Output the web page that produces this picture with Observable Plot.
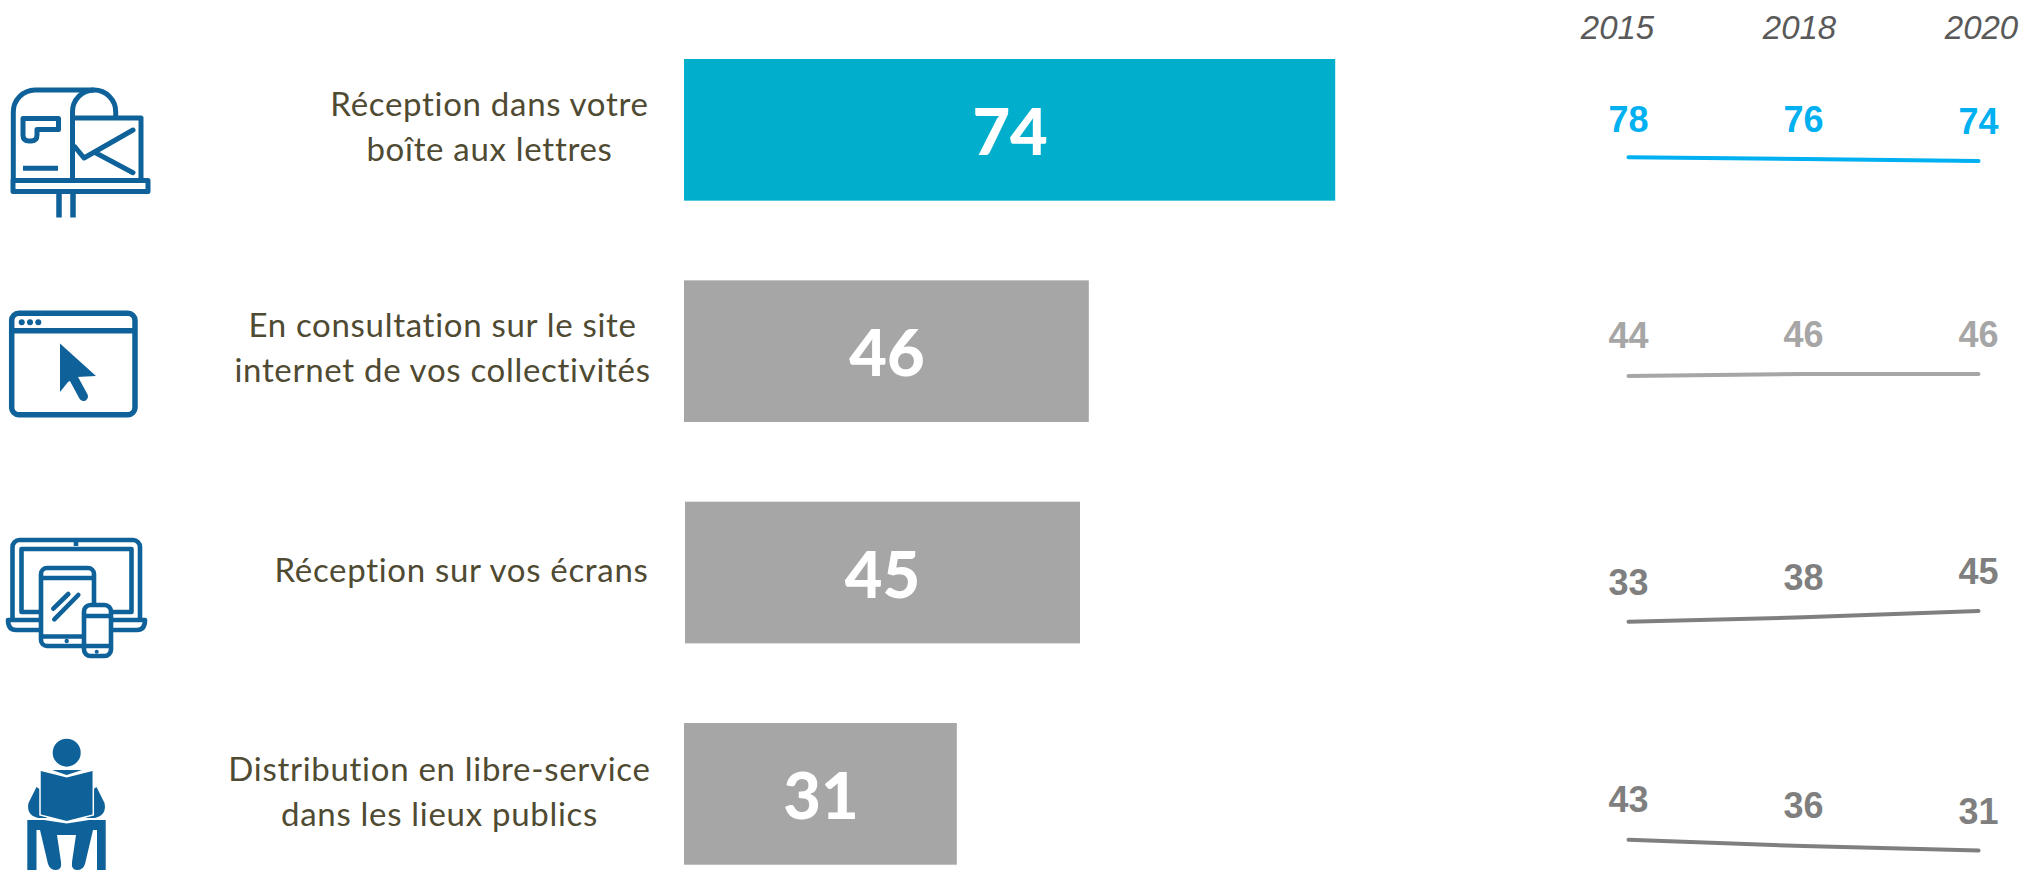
<!DOCTYPE html>
<html lang="fr">
<head>
<meta charset="utf-8">
<script src="https://cdn.jsdelivr.net/npm/d3@7"></script>
<script src="https://cdn.jsdelivr.net/npm/@observablehq/plot@0.6"></script>
<style>
html,body{margin:0;padding:0;background:#fff}
#chart{position:relative;width:2026px;height:870px;overflow:hidden}
#chart>svg,#chart>div{position:absolute}
.cat text{letter-spacing:.7px}
</style>
</head>
<body>
<div id="chart"></div>
<script>
// ---- data ----
const categories = [
  "Réception dans votre\nboîte aux lettres",
  "En consultation sur le site\ninternet de vos collectivités",
  "Réception sur vos écrans",
  "Distribution en libre-service\ndans les lieux publics"
];
const values = [74, 46, 45, 31];
const years = ["2015", "2018", "2020"];
const trends = [
  [78, 76, 74],
  [44, 46, 46],
  [33, 38, 45],
  [43, 36, 31]
];

// ---- styling and layout ----
const barColors = ["#01AFCD", "#A6A6A6", "#A6A6A6", "#A6A6A6"];
const barInsets = [0, 0, 1, 0];
const trendColors = ["#00B0F0", "#A6A6A6", "#7F7F7F", "#7F7F7F"];
const labelCentres = [489, 442, 461, 439];
const labelShifts = [-6.5, -6.5, -5.5, -5];
const trendBase = [227.2, 414.6, 650.7, 877.7];
const trendLabelNudges = [[2, 0, 0], [-1, 0, 0], [0, 0, 0], [-1, -1, 0]];
const chart = document.getElementById("chart");
const place = (el, left, top) => { el.style.left = left + "px"; el.style.top = top + "px"; chart.appendChild(el); };

const rows = categories.map((category, i) => ({category, value: values[i], color: barColors[i], inset: barInsets[i], centre: labelCentres[i], shift: labelShifts[i]}));

// bars and category labels
place(Plot.plot({
  width: 2026, height: 870, margin: 0,
  style: {background: "transparent", fontFamily: "Lato, sans-serif"},
  x: {domain: [0, 100], range: [684, 1564], axis: null},
  y: {type: "band", domain: categories, range: [59, 864.7], paddingInner: 0.36, paddingOuter: 0, round: false, axis: null},
  marks: [
    ...rows.map(r => Plot.barX([r], {x1: 0, x2: "value", y: "category", fill: "color", insetLeft: r.inset})),
    Plot.text(rows, {x: d => d.value / 2, y: "category", text: "value", dy: 4, fill: "#fff", fontWeight: 900, fontSize: 65}),
    ...rows.map(r => Plot.text([r], {
      x: 0, y: "category", text: "category", dx: r.centre - 684, dy: r.shift,
      textAnchor: "middle", lineAnchor: "middle", lineHeight: 1.37,
      fontSize: 33, fill: "#4F4A32", className: "cat"
    }))
  ]
}), 0, 0);

// year header
place(Plot.plot({
  width: 476, height: 60, margin: 0,
  style: {background: "transparent", fontFamily: "'Liberation Sans', Arial, sans-serif"},
  x: {type: "point", domain: years, range: [67, 432], padding: 0, axis: null},
  y: {axis: null, domain: [0, 1], range: [38, 38]},
  marks: [
    Plot.text(years, {x: d => d, y: () => 0, text: d => d, fontStyle: "italic", fontSize: 33, fill: "#595959", lineAnchor: "bottom"})
  ]
}), 1549, 0);

// one small trend per row
trends.forEach((series, i) => {
  const base = trendBase[i];
  const points = years.map((year, j) => ({year, value: series[j], nudge: trendLabelNudges[i][j]}));
  place(Plot.plot({
    width: 476, height: 120, margin: 0,
    style: {background: "transparent", fontFamily: "'Liberation Sans', Arial, sans-serif"},
    x: {type: "point", domain: years, range: [78, 428], padding: 0, axis: null},
    y: {domain: [25, 85], range: [107.5, 53.5], axis: null},
    marks: [
      Plot.line(points, {x: "year", y: "value", stroke: trendColors[i], strokeWidth: 4, strokeLinecap: "round"}),
      ...points.map(p => Plot.text([p], {x: "year", y: "value", text: "value", dy: -27 + p.nudge, lineAnchor: "bottom", fontWeight: 700, fontSize: 36, fill: trendColors[i]}))
    ]
  }), 1550, base - 130);
});

// pictograms
const ink = "#0F6299";
const icons = document.createElementNS("http://www.w3.org/2000/svg", "svg");
icons.setAttribute("width", 170);
icons.setAttribute("height", 870);
icons.setAttribute("viewBox", "0 0 170 870");
icons.innerHTML = `
<g fill="none" stroke="${ink}" stroke-width="5" stroke-linejoin="round">
  <!-- mailbox -->
  <path d="M13.3 180V112A22 22 0 0 1 35 90H94A21.7 21.7 0 0 1 115.7 112V118"/>
  <path d="M72.5 180V112A21.7 21.7 0 0 1 94 90"/>
  <path d="M72.5 118H141V180"/>
  <rect x="13" y="180.5" width="135" height="11"/>
  <path d="M59 194V217.5M73 194V217.5" stroke-width="5.5"/>
  <path d="M23 118.5H58.5V129.5H37V135Q37 141 31 141H29Q23 141 23 135Z"/>
  <path d="M23 168.3H58"/>
  <path d="M75 147L84 158L133 130M96 153L133 172.7" stroke-linecap="round"/>
  <!-- browser -->
  <rect x="11.7" y="313.3" width="123.3" height="101.4" rx="7" stroke-width="5.5"/>
  <path d="M11.7 330.7H135" stroke-width="5.5"/>
  <!-- devices -->
  <g stroke-width="4.6">
    <path d="M12.5 618V547A7 7 0 0 1 19.5 540H133A7 7 0 0 1 140 547V618M76 540V546"/>
    <path d="M41 612H21.5V549H131.5V612H111"/>
    <path d="M8 620H145Q145 630 137 630H16Q8 630 8 620Z"/>
    <rect x="41" y="568" width="53" height="78" rx="6" fill="#fff"/>
    <path d="M41 578H94M41 636.5H94"/>
    <path d="M68.3 594L53.3 608.7M78.3 595L54.3 619.3" stroke-linecap="round"/>
    <rect x="84" y="605" width="27" height="51" rx="6.5" fill="#fff"/>
    <path d="M84 616H111M84 646H111"/>
  </g>
</g>
<g fill="${ink}">
  <circle cx="21.7" cy="322.3" r="3"/><circle cx="30" cy="322.3" r="3"/><circle cx="38.3" cy="322.3" r="3"/>
  <path d="M60 343.5L96 376L77 377L68 382L60 392Z"/>
  <path d="M74 379L83.5 396.5" stroke="${ink}" stroke-width="9" stroke-linecap="round"/>
  <circle cx="66.7" cy="641" r="2.2"/><circle cx="96.7" cy="651.7" r="2"/>
  <!-- reader -->
  <circle cx="66.7" cy="752.7" r="14"/>
  <path d="M52 770H82L66.7 775Z"/>
  <path d="M36.5 787L28.5 803Q26 815 38 818H47V794Z"/>
  <path d="M96.5 787L104.5 803Q107 815 95 818H86V794Z"/>
  <path d="M40 770L66.7 776.7L93.3 770V815L66.7 821.7L40 815Z" stroke="#fff" stroke-width="1.5"/>
  <path d="M27.3 820H44L66.7 823.5L89 820H105.7V870H97V830L93 830L85 864Q83 870 77 870Q71 870 72 862L76 835H57L61 862Q62 870 56 870Q50 870 48 864L40 830L36.5 830V870H27.3Z"/>
</g>`;
place(icons, 0, 0);
</script>
</body>
</html>
